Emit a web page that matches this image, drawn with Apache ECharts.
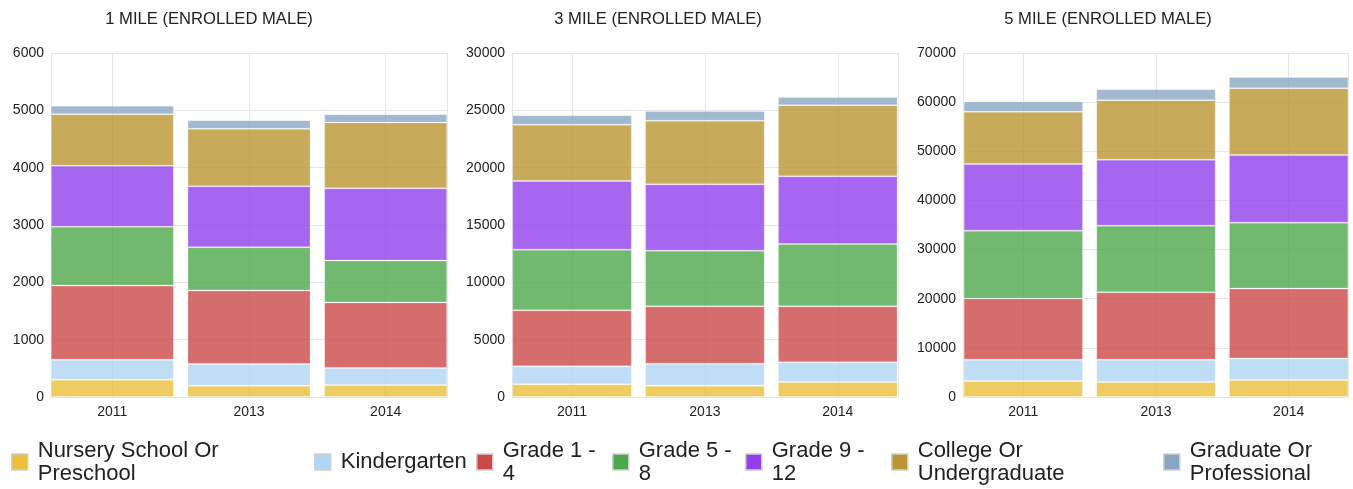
<!DOCTYPE html>
<html>
<head>
<meta charset="utf-8">
<title>Enrolled male by school level</title>
<script src="https://cdn.jsdelivr.net/npm/echarts@6/dist/echarts.min.js"></script>
<style>
  html, body { margin: 0; padding: 0; background: #fff; }
  #chart { width: 1353px; height: 489px; }
</style>
</head>
<body>
<div id="chart"></div>
<script>
  // categories
  const years = ['2011', '2013', '2014']
  const levels = [
    'Nursery School Or Preschool',
    'Kindergarten',
    'Grade 1 - 4',
    'Grade 5 - 8',
    'Grade 9 - 12',
    'College Or Undergraduate',
    'Graduate Or Professional'
  ]
  // legend text wraps like the original
  const legendLabels = [
    'Nursery School Or\nPreschool',
    'Kindergarten',
    'Grade 1 -\n4',
    'Grade 5 -\n8',
    'Grade 9 -\n12',
    'College Or\nUndergraduate',
    'Graduate Or\nProfessional'
  ]
  const titles = ['1 MILE (ENROLLED MALE)', '3 MILE (ENROLLED MALE)', '5 MILE (ENROLLED MALE)']

  // y axis ticks per panel
  const yMax = [6000, 30000, 70000]
  const yStep = [1000, 5000, 10000]

  // values per level (rows follow levels), columns follow years
  const mile1 = [
    [300, 197, 209],
    [350, 378, 296],
    [1294, 1282, 1143],
    [1027, 755, 732],
    [1063, 1062, 1259],
    [899, 1004, 1149],
    [145, 151, 145]
  ]
  const mile3 = [
    [1105, 988, 1308],
    [1569, 1919, 1715],
    [4884, 5000, 4884],
    [5291, 4855, 5436],
    [5988, 5785, 5901],
    [4913, 5552, 6192],
    [814, 843, 727]
  ]
  const mile5 = [
    [3250, 3047, 3453],
    [4333, 4536, 4401],
    [12457, 13744, 14218],
    [13812, 13541, 13405],
    [13541, 13406, 13744],
    [10630, 12119, 13609],
    [2099, 2234, 2302]
  ]
  const panels = [mile1, mile3, mile5]

  const colors = ['#EBBF3A', '#AFD6F4', '#CA4848', '#4DA74B', '#9140EC', '#BA9532', '#88A6C4']

  const font = '"Liberation Sans", Arial, sans-serif'
  const gridColor = '#e6e6e6'
  const textColor = '#222'

  // layout: grid used by the bars, and the visible frame around them
  const barGrids = [
    { left: 44, width: 410 },
    { left: 505.6, width: 398.6 },
    { left: 957, width: 398 }
  ]
  const frameGrids = [
    { left: 51, width: 396 },
    { left: 512, width: 386 },
    { left: 963, width: 385 }
  ]
  const titleCenters = [204, 653, 1103]
  const legendLeft = [11, 314, 476, 612, 745, 891, 1163]

  const chart = echarts.init(document.getElementById('chart'))

  const grid = []
  const xAxis = []
  const yAxis = []
  const series = []

  barGrids.forEach((g, r) => {
    grid.push({ left: g.left, width: g.width, top: 53, height: 344, outerBoundsMode: 'none', containLabel: false })
    xAxis.push({
      type: 'category',
      gridIndex: r,
      data: years,
      axisLine: { show: false },
      axisTick: { show: false },
      axisLabel: { color: textColor, fontSize: 14, fontFamily: font, margin: 8 },
      splitLine: { show: true, alignWithLabel: true, lineStyle: { color: gridColor } }
    })
    yAxis.push({ type: 'value', gridIndex: r, min: 0, max: yMax[r], interval: yStep[r], show: false })
  })
  frameGrids.forEach((g, r) => {
    grid.push({ left: g.left, width: g.width, top: 53, height: 344, outerBoundsMode: 'none', containLabel: false })
    xAxis.push({ type: 'value', gridIndex: r + 3, show: false })
  })
  frameGrids.forEach((g, r) => {
    yAxis.push({
      type: 'value',
      gridIndex: r + 3,
      min: 0,
      max: yMax[r],
      interval: yStep[r],
      axisLine: { show: true, lineStyle: { color: gridColor } },
      axisTick: { show: false },
      axisLabel: {
        color: textColor,
        fontSize: 14,
        fontFamily: font,
        margin: 7,
        formatter: v => String(v)
      },
      splitLine: { show: true, lineStyle: { color: gridColor } }
    })
  })
  frameGrids.forEach((g, r) => {
    yAxis.push({
      type: 'value',
      gridIndex: r + 3,
      position: 'right',
      min: 0,
      max: yMax[r],
      interval: yStep[r],
      axisLine: { show: true, lineStyle: { color: gridColor } },
      axisTick: { show: false },
      axisLabel: { show: false },
      splitLine: { show: false }
    })
  })

  panels.forEach((rows, r) => {
    rows.forEach((vals, k) => {
      series.push({
        name: levels[k],
        type: 'bar',
        stack: 'panel' + r,
        xAxisIndex: r,
        yAxisIndex: r,
        data: vals,
        barCategoryGap: '10%',
        itemStyle: {
          color: colors[k],
          opacity: 0.8,
          borderColor: 'rgba(255,255,255,0.25)',
          borderWidth: 1
        },
        emphasis: { disabled: true }
      })
    })
  })

  const legend = levels.map((name, k) => ({
    data: [name],
    left: legendLeft[k],
    top: legendLabels[k].indexOf('\n') >= 0 ? 439 : 450.5,
    padding: 0,
    icon: 'rect',
    itemWidth: 16,
    itemHeight: 16,
    itemStyle: { opacity: 1, borderColor: '#d0d0d0', borderWidth: 1.5 },
    formatter: () => legendLabels[k],
    textStyle: {
      color: textColor,
      fontSize: 22,
      lineHeight: 23,
      fontFamily: font,
      padding: [0, 0, 0, 5]
    }
  }))

  const title = titles.map((t, r) => ({
    text: t,
    left: titleCenters[r],
    top: 6,
    textAlign: 'center',
    textStyle: { color: textColor, fontSize: 16.6, fontWeight: 'normal', fontFamily: font }
  }))

  chart.setOption({
    backgroundColor: '#fff',
    animation: false,
    color: colors,
    title: title,
    legend: legend,
    grid: grid,
    xAxis: xAxis,
    yAxis: yAxis,
    series: series
  })
</script>
</body>
</html>
